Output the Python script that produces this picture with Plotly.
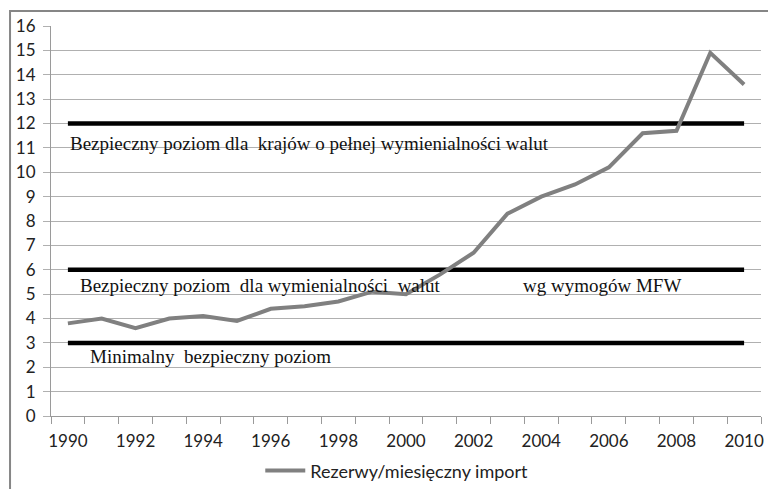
import plotly.graph_objects as go

years = list(range(1990, 2011))
rezerwy = [3.8, 4.0, 3.6, 4.0, 4.1, 3.9, 4.4, 4.5, 4.7, 5.1, 5.0,
           5.8, 6.7, 8.3, 9.0, 9.5, 10.2, 11.6, 11.7, 14.9, 13.6]
poziom_pelny = [12] * len(years)
poziom_mfw = [6] * len(years)
poziom_min = [3] * len(years)
series_name = "Rezerwy/miesięczny import"
y_ticks = list(range(0, 17))
x_label_years = list(range(1990, 2011, 2))

fig = go.Figure()
for lvl in (poziom_pelny, poziom_mfw, poziom_min):
    fig.add_trace(go.Scatter(x=years, y=lvl, mode="lines", showlegend=False,
                             line=dict(color="black", width=4.5), hoverinfo="skip"))
fig.add_trace(go.Scatter(x=years, y=rezerwy, mode="lines", name=series_name,
                         line=dict(color="#808080", width=4)))

serif = dict(family="Liberation Serif", size=19, color="#111111")
ann = [
    ("Bezpieczny poziom dla  krajów o pełnej wymienialności walut", 1990.0, 11.2),
    ("Bezpieczny poziom  dla wymienialności  walut", 1990.3, 5.35),
    ("wg wymogów MFW", 2003.4, 5.35),
    ("Minimalny  bezpieczny poziom", 1990.6, 2.45),
]
for t, x, y in ann:
    fig.add_annotation(text=t.replace("  ", "\u00a0 "), x=x, y=y, xref="x", yref="y",
                       xanchor="left", yanchor="middle", showarrow=False, font=serif)

fig.add_shape(type="rect", xref="paper", yref="paper",
              x0=-0.0577, x1=1.02, y0=-0.2, y1=1.0385,
              line=dict(color="#868686", width=2), fillcolor="rgba(0,0,0,0)")

fig.update_layout(
    width=768, height=489,
    margin=dict(l=51, r=7, t=26, b=73, autoexpand=False),
    paper_bgcolor="white", plot_bgcolor="white",
    font=dict(family="Lato", size=17, color="#222222"),
    showlegend=True,
    legend=dict(orientation="h", x=0.487, xanchor="center",
                yref="container", y=0.037, yanchor="middle",
                font=dict(size=18), itemwidth=40, borderwidth=0,
                tracegroupgap=0),
    xaxis=dict(range=[1989.5, 2010.5], tickmode="array", tickvals=x_label_years,
               ticks="outside", ticklen=6, tickcolor="rgba(0,0,0,0)",
               showgrid=False, showline=True, linecolor="#9a9a9a", linewidth=1.2,
               zeroline=False, ticklabelstandoff=3,
               minor=dict(tick0=1989.5, dtick=1, ticks="outside", ticklen=7,
                          tickcolor="#9a9a9a", showgrid=False)),
    yaxis=dict(range=[0, 16], tickmode="array", tickvals=y_ticks,
               ticks="outside", ticklen=7, tickcolor="#b0b0b0",
               showgrid=True, gridcolor="#b0b0b0", gridwidth=1.2,
               showline=True, linecolor="#9a9a9a", linewidth=1.2,
               zeroline=False, ticklabelstandoff=4),
)
fig.write_html("out.html", config={"displayModeBar": False},
               post_script="document.body.style.margin='0px';")
